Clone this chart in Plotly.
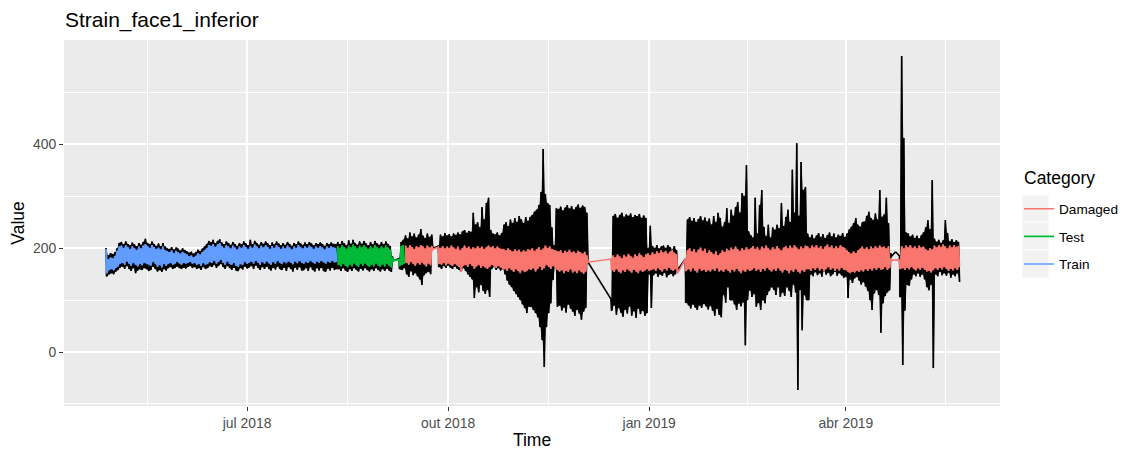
import pandas as pd
import plotly.graph_objects as go

# ---------------- data (daily max / min readings) ----------------
start_date = "2018-04-27 12:00"   # day 0
train_day0, test_day0, damaged_day0 = 0, 106, 137

categories = ["Damaged", "Test", "Train"]
colors = {"Damaged": "#F8766D", "Test": "#00BA38", "Train": "#619CFF"}

train_hi = [198, 178, 182, 180, 185, 195, 203, 205, 200, 206,
            202, 198, 204, 200, 196, 203, 199, 205, 208, 204,
            200, 206, 202, 198, 201, 197, 203, 196, 194, 192,
            196, 190, 195, 192, 189, 193, 190, 188, 184, 186,
            182, 185, 190, 187, 192, 196, 200, 206, 204, 208,
            202, 207, 210, 204, 200, 206, 203, 199, 205, 201,
            197, 203, 200, 206, 202, 198, 204, 200, 207, 203,
            199, 205, 201, 206, 202, 198, 204, 200, 206, 202,
            198, 203, 199, 205, 201, 197, 203, 200, 206, 202,
            199, 204, 200, 205, 202, 198, 203, 200, 204, 201,
            197, 203, 200, 204, 201, 200]
train_lo = [152, 158, 160, 157, 162, 165, 170, 172, 168, 175,
            170, 166, 172, 168, 165, 170, 167, 172, 170, 168,
            166, 174, 170, 164, 168, 163, 170, 166, 170, 172,
            168, 170, 174, 171, 168, 172, 170, 172, 174, 170,
            172, 168, 170, 166, 172, 168, 170, 174, 172, 176,
            170, 174, 178, 172, 168, 175, 170, 168, 172, 166,
            164, 170, 168, 174, 170, 172, 175, 170, 176, 172,
            168, 174, 170, 175, 171, 168, 174, 170, 176, 172,
            170, 174, 171, 175, 172, 169, 175, 171, 176, 172,
            170, 174, 172, 176, 173, 170, 175, 172, 176, 173,
            170, 175, 172, 176, 173, 174]
train_raw_hi = [200, 186, 190, 188, 192, 200, 210, 212, 207, 213,
                208, 205, 211, 207, 203, 210, 206, 212, 218, 210,
                207, 213, 208, 204, 209, 203, 210, 203, 200, 198,
                202, 197, 201, 199, 195, 200, 196, 194, 191, 193,
                189, 192, 197, 194, 199, 203, 208, 214, 211, 216,
                209, 214, 217, 211, 207, 213, 210, 206, 212, 208,
                204, 210, 207, 213, 209, 205, 216, 207, 214, 210,
                206, 212, 208, 213, 209, 205, 211, 207, 213, 209,
                205, 210, 206, 212, 208, 204, 210, 207, 213, 209,
                206, 211, 207, 212, 209, 205, 210, 207, 211, 208,
                204, 210, 207, 211, 208, 207]
train_raw_lo = [146, 150, 152, 150, 155, 158, 163, 165, 160, 166,
                160, 156, 162, 152, 157, 160, 158, 162, 160, 156,
                158, 165, 160, 155, 158, 154, 160, 157, 162, 164,
                160, 162, 165, 162, 160, 163, 161, 164, 166, 162,
                164, 160, 162, 158, 164, 160, 162, 166, 164, 168,
                162, 166, 170, 164, 160, 166, 162, 158, 163, 157,
                156, 162, 159, 165, 161, 163, 166, 160, 167, 162,
                158, 164, 160, 165, 160, 157, 163, 159, 165, 160,
                158, 163, 156, 164, 160, 155, 163, 158, 164, 157,
                158, 162, 156, 164, 158, 155, 162, 157, 163, 156,
                155, 161, 157, 163, 158, 160]

test_hi = [204, 200, 206, 202, 198, 205, 201, 207, 203, 199,
           205, 201, 206, 202, 198, 204, 200, 206, 202, 199,
           204, 200, 205, 201, 197, 182, None, None, 178, 204, 206]
test_lo = [168, 165, 170, 166, 163, 169, 165, 171, 167, 164,
           170, 166, 171, 167, 164, 169, 165, 171, 167, 164,
           169, 165, 170, 166, 163, 176, None, None, 166, 168, 170]
test_raw_hi = [212, 207, 214, 209, 205, 215, 208, 216, 210, 206,
               213, 208, 214, 209, 205, 212, 207, 214, 209, 206,
               212, 207, 213, 208, 204, 184, None, None, 180, 212, 216]
test_raw_lo = [160, 156, 162, 157, 154, 160, 156, 162, 158, 155,
               161, 157, 162, 158, 155, 160, 156, 162, 158, 155,
               160, 156, 161, 157, 154, 176, None, None, 160, 158, 162]

damaged_hi = [
    205, 200, 206, 202, 198, 204, 201, 206, 203, 199, 205, 201, 204,
    None, None,
    202, 200, 204, 199, 203, 200, 205, 201, 198, 203, 196, 200,
    205, 200, 203, 198, 202, 199, 204, 200, 203, 198, 202, 205, 201, 204, 199, 203, 200, 198,
    198, 195, 200, 196, 193, 198, 194, 197, 192, 196, 193, 198,
    196, 200, 194, 198, 202, 196, 199, 205, 200, 203, 198, 196, 195,
    193, 196, 190, 195, 192, 197, 191, 194, 190, 195, 192, 189, 193, 186,
    None, None, None, None, None, None, None, None, None, None,
    179, 186, 182, 188, 184, 180, 187, 183, 189, 185, 181, 188, 184, 190, 186, 182, 188, 190, 186,
    192, 188, 194, 190, 196, 191, 195, 189, 193, 197, 191, 188,
    None, None, None,
    179, 196, 200, 193, 198, 191, 197, 201, 194, 199, 190, 196,
    192, 188, 194, 186, 190, 196, 192, 199, 195, 201, 197, 203, 198, 194, 200, 196, 202, 197,
    200, 204, 198, 202, 196, 203, 199, 205, 200, 196, 202, 198, 204, 199, 195, 201,
    204, 199, 205, 200, 206, 201, 197, 203, 199, 205,
    203, 199, 205, 201, 206, 200, 204, 198, 203, 207, 201, 205, 199, 204, 200, 206, 202,
    200, 196, 192, 189, 194, 190, 196, 199, 203, 198, 202, 197, 203, 199, 204, 200, 205, 201, 203, 199, 204, 180,
    None, None, None,
    177, 204, 199, 205, 201, 206, 200, 204, 199, 205, 201, 203, 198, 195, 200, 197, 205, 201, 206, 202,
    207, 203, 199, 205, 201, 206, 202, 204]
damaged_lo = [
    172, 168, 174, 170, 166, 172, 168, 173, 169, 165, 171, 167, 198,
    None, None,
    170, 168, 172, 167, 171, 168, 166, 170, 167, 164, 154, 166,
    168, 164, 170, 166, 160, 165, 168, 162, 166, 163, 160, 164, 168, 165, 162, 166, 163, 160,
    160, 156, 162, 158, 154, 160, 156, 152, 158, 154, 156, 160,
    158, 162, 155, 160, 165, 158, 162, 168, 164, 160, 166, 162, 158,
    155, 158, 152, 157, 154, 160, 153, 156, 152, 158, 154, 151, 155, 173,
    None, None, None, None, None, None, None, None, None, None,
    158, 154, 160, 155, 152, 158, 154, 160, 156, 153, 159, 155, 152, 158, 154, 157, 160, 156, 158,
    160, 156, 162, 158, 155, 161, 157, 163, 159, 156, 160, 152,
    None, None, None,
    156, 160, 155, 162, 157, 153, 161, 156, 159, 154, 158, 155,
    160, 156, 162, 155, 158, 154, 160, 157, 153, 159, 155, 161, 156, 152, 158, 154, 160, 156,
    158, 162, 156, 160, 154, 161, 157, 163, 158, 155, 160, 156, 162, 157, 153, 159,
    157, 152, 158, 154, 160, 155, 152, 158, 154, 160,
    160, 156, 162, 158, 163, 157, 161, 155, 160, 164, 158, 162, 156, 161, 157, 163, 159,
    158, 154, 152, 155, 153, 157, 154, 158, 155, 160, 156, 161, 157, 162, 158, 163, 159, 160, 164, 158, 162, 177,
    None, None, None,
    160, 162, 158, 163, 159, 164, 160, 157, 162, 158, 163, 159, 155, 157, 153, 158, 162, 158, 163, 159,
    164, 160, 156, 161, 157, 162, 158, 164]
damaged_raw_hi = [
    225, 218, 230, 222, 228, 220, 226, 237, 224, 219, 228, 221, 226,
    None, None,
    204, 226, 222, 229, 224, 227, 222, 228, 225, 230, 226, 232,
    235, 229, 233, 231,
    268, 245, 250, 240, 279, 255, 287, 297, 235, 228, 226, 230, 224, 229,
    245, 250, 242, 255, 248, 258, 250, 262, 255, 248, 260, 252,
    260, 264, 270, 274, 283, 308, 391, 304, 287, 283, 240, 205, 277,
    275, 280, 272, 278, 283, 276, 281, 274, 279, 284, 277, 282, 279, 268,
    None, None, None, None, None, None, None, None, None, None,
    102, 262, 266, 258, 264, 268, 260, 265, 262, 267, 259, 264, 261, 266, 258, 263,
    258, 200, 243,
    204, 200, 206, 199, 203, 205, 200, 206, 202, 198, 204, 196,
    None, None, None,
    179, 255, 260, 252, 258, 250, 256, 262, 253, 259, 251, 257,
    245, 262, 250, 268, 258,
    241, 250, 277, 248,
    274, 262, 279, 289, 268, 306, 300, 360, 232,
    225, 220, 297, 228, 283, 312, 241, 223, 245, 220,
    240, 235, 245, 238, 287, 242,
    260, 274, 250, 351, 268, 402, 262, 366, 312, 318,
    228, 220, 226, 218, 224, 229, 221, 227, 219, 225, 230, 222, 228, 220, 226, 223, 229,
    221, 228, 236, 241, 248, 258, 245, 241, 250, 251, 262, 270, 258, 254, 267, 255, 312, 260, 265, 297, 248, 190,
    None, 192, None,
    185, 570, 412, 230,
    228, 222, 226, 219, 224, 218, 225, 230,
    240, 254, 236, 331,
    218, 212, 216, 210, 215, 254, 229, 213, 217, 211, 215, 212]
damaged_raw_lo = [
    150, 145, 156, 148, 152, 146, 140, 129, 148, 152, 155, 150, 200,
    None, None,
    164, 160, 166, 162, 167, 163, 160, 165, 161, 158, 155, 162,
    156, 150, 145, 140,
    104, 125, 115, 130, 118, 112, 120, 106, 160, 164, 158, 162, 157, 160,
    150, 138, 130, 125, 118, 112, 106, 100, 92, 85, 75, 88,
    87, 81, 75, 67, 48, 23, -29, 48, 75, 94, 139, 162, 87,
    90, 80, 86, 76, 92, 84, 78, 70, 82, 74, 62, 78, 85, 173,
    None, None, None, None, None, None, None, None, None, None,
    80, 90, 72, 85, 76, 68, 82, 74, 88, 70, 79, 66, 84, 73, 80, 70,
    75, 150, 85,
    148, 152, 145, 150, 147, 153, 144, 149, 151, 146, 150, 158,
    None, None, None,
    95, 90, 84, 92, 86, 81, 90, 85, 93, 88, 82, 89,
    80, 70, 84, 72, 67,
    110, 95, 125, 100,
    100, 92, 81, 94, 88, 96, 13, 100, 119,
    106, 112, 87, 95, 81, 100, 94, 110, 118, 125,
    120, 110, 125, 106, 115, 108,
    125, 118, 106, 130, 115, -73, 120, 42, 110, 100,
    100, 150, 146, 154, 148, 152, 145, 155, 149, 153, 146, 150, 155, 147, 152, 148, 143,
    145, 104, 140, 133, 142, 145, 138, 130, 135, 126, 118, 100, 81, 113, 120, 110, 37, 94, 108, 115, 119, 185,
    None, 192, None,
    106, -25, 80, 130,
    128, 140, 150, 146, 152, 145, 150, 140,
    125, 119, 130, -31,
    150, 146, 155, 148, 152, 147, 153, 143, 150, 146, 152, 135]

x_tick_vals = ["2018-07-01", "2018-10-01", "2019-01-01", "2019-04-01"]
x_tick_text = ["jul 2018", "out 2018", "jan 2019", "abr 2019"]
x_minor_vals = ["2018-05-16 12:00", "2018-08-16", "2018-11-16", "2019-02-15", "2019-05-16 12:00"]
y_tick_vals = [0, 200, 400]
y_minor_vals = [-100, 100, 300, 500]

# ---------------- checks ----------------
for a, b in [(train_hi, train_lo), (train_raw_hi, train_raw_lo), (train_hi, train_raw_hi)]:
    assert len(a) == len(b) == test_day0 - train_day0, (len(a), len(b))
for a, b in [(test_hi, test_lo), (test_raw_hi, test_raw_lo), (test_hi, test_raw_hi)]:
    assert len(a) == len(b) == damaged_day0 - test_day0, (len(a), len(b))
for a, b in [(damaged_hi, damaged_lo), (damaged_raw_hi, damaged_raw_lo), (damaged_hi, damaged_raw_hi)]:
    assert len(a) == len(b) == 254, (len(a), len(b))

t0 = pd.Timestamp(start_date)
half = pd.Timedelta(hours=12)


def day(d):
    return t0 + pd.Timedelta(days=d)


def zigzag(day0, hi, lo):
    """Daily max at the start of the day, min half a day later; gaps are bridged."""
    xs, ys = [], []
    for i, (h, l) in enumerate(zip(hi, lo)):
        if h is None:
            continue
        t = day(day0 + i)
        xs += [t, t + half]
        ys += [h, l]
    return xs, ys


def band(day0, hi, lo):
    """Closed outline of the zig-zag for every contiguous block of days."""
    xs, ys = [], []
    block = []
    for i, (h, l) in enumerate(list(zip(hi, lo)) + [(None, None)]):
        if h is not None:
            block.append((day(day0 + i), h, l))
            continue
        if len(block) > 1:
            ux, uy = [], []
            for k, (t, h_, l_) in enumerate(block):
                ux.append(t)
                uy.append(h_)
                if k + 1 < len(block):
                    ux.append(t + half)
                    uy.append(min(h_, block[k + 1][1]))
            lx, ly = [], []
            for k in range(len(block) - 1, -1, -1):
                t, h_, l_ = block[k]
                lx.append(t + half)
                ly.append(l_)
                lx.append(t)
                ly.append(max(l_, block[k - 1][2]) if k > 0 else l_)
            xs += ux + lx + [ux[0], None]
            ys += uy + ly + [uy[0], None]
        block = []
    return xs, ys


fig = go.Figure()

raw_hi = train_raw_hi + test_raw_hi + damaged_raw_hi
raw_lo = train_raw_lo + test_raw_lo + damaged_raw_lo
bx, by = band(0, raw_hi, raw_lo)
fig.add_trace(go.Scatter(x=bx, y=by, mode="lines", fill="toself", fillcolor="black",
                         line=dict(color="black", width=0.8), showlegend=False, hoverinfo="skip"))
zx, zy = zigzag(0, raw_hi, raw_lo)
fig.add_trace(go.Scatter(x=zx, y=zy, mode="lines", showlegend=False,
                         line=dict(color="black", width=1.6), hoverinfo="skip"))

cat_data = {
    "Damaged": (damaged_day0, damaged_hi, damaged_lo),
    "Test": (test_day0, test_hi, test_lo),
    "Train": (train_day0, train_hi, train_lo),
}
for cat in categories:
    d0, hi, lo = cat_data[cat]
    bx, by = band(d0, hi, lo)
    fig.add_trace(go.Scatter(x=bx, y=by, mode="lines", fill="toself", fillcolor=colors[cat],
                             line=dict(color=colors[cat], width=0.8), showlegend=False,
                             legendgroup=cat, hoverinfo="skip"))
    cx, cy = zigzag(d0, hi, lo)
    fig.add_trace(go.Scatter(x=cx, y=cy, mode="lines", name=cat, legendgroup=cat,
                             line=dict(color=colors[cat], width=1.6)))

font_family = "Liberation Sans, Arial, sans-serif"

# legend key backgrounds (ggplot style grey key boxes)
key_boxes = [(0.5765, 0.5027), (0.5027, 0.4262), (0.4262, 0.3497)]
shapes = [dict(type="rect", xref="paper", yref="paper", x0=1.0235, x1=1.0524,
               y0=lo_, y1=hi_, fillcolor="#F2F2F2", line=dict(color="white", width=1),
               layer="above") for hi_, lo_ in key_boxes]

fig.update_layout(
    width=1119, height=444,
    margin=dict(l=56, r=127, t=32, b=46, autoexpand=False),
    paper_bgcolor="white", plot_bgcolor="#EBEBEB",
    font=dict(family=font_family, color="black"),
    title=dict(text="Strain_face1_inferior", x=57 / 1119, xanchor="left",
               y=1 - 12 / 444, yanchor="middle",
               font=dict(size=21, color="black", family=font_family)),
    legend=dict(font=dict(size=13.6, color="black"),
                x=1.0203, xanchor="left", y=0.581, yanchor="top",
                bgcolor="rgba(0,0,0,0)", tracegroupgap=7, itemwidth=30),
    shapes=shapes,
    annotations=[dict(text="Category", xref="paper", yref="paper", x=1.0235, y=0.623,
                      xanchor="left", yanchor="middle", showarrow=False,
                      font=dict(size=17.5, color="black", family=font_family))],
)

fig.update_xaxes(
    type="date", range=["2018-04-08 06:00", "2019-06-10 12:00"],
    tickvals=x_tick_vals, ticktext=x_tick_text,
    ticks="outside", ticklen=4, tickcolor="#333333", tickwidth=1.1,
    tickfont=dict(size=13.9, color="#4D4D4D"),
    showgrid=True, gridcolor="white", gridwidth=2.1,
    minor=dict(tickvals=x_minor_vals, showgrid=True, gridcolor="white", gridwidth=1.05, ticks=""),
    zeroline=False, showline=False,
    title=dict(text="Time", font=dict(size=17.5, color="black"), standoff=4),
    automargin=False,
)
fig.update_yaxes(
    range=[-104, 601],
    tickvals=y_tick_vals, ticktext=[str(v) for v in y_tick_vals],
    ticks="outside", ticklen=4, tickcolor="#333333", tickwidth=1.1,
    tickfont=dict(size=13.9, color="#4D4D4D"),
    showgrid=True, gridcolor="white", gridwidth=2.1,
    minor=dict(tickvals=y_minor_vals, showgrid=True, gridcolor="white", gridwidth=1.05, ticks=""),
    zeroline=False, showline=False,
    title=dict(text="Value", font=dict(size=17.5, color="black"), standoff=3),
    automargin=False,
)

fig.write_html("out.html")
